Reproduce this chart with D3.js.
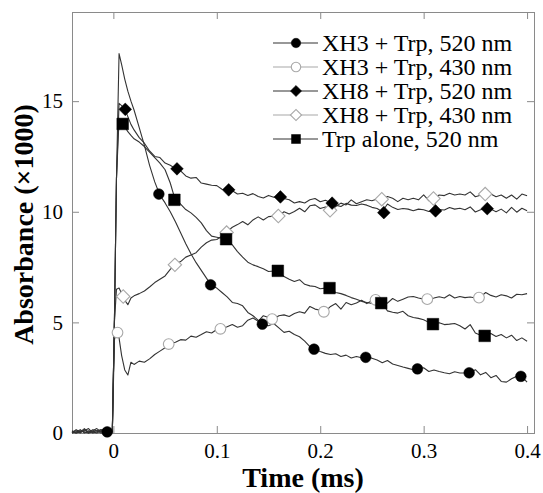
<!DOCTYPE html>
<html>
<head>
<meta charset="utf-8">
<script src="https://cdn.jsdelivr.net/npm/d3@7/dist/d3.min.js"></script>
<style>
  html, body { margin: 0; padding: 0; background: #fff; }
  svg { display: block; }
  text { font-family: "Liberation Serif", "Times New Roman", serif; }
</style>
</head>
<body>
<svg id="chart" width="543" height="493"></svg>
<script>
// Sampling times of the transient traces (ms)
const times = [
  -0.040, -0.036, -0.032, -0.028, -0.024, -0.020, -0.016, -0.012, -0.008, -0.004,
  -0.001, 0.001, 0.003, 0.0055, 0.008, 0.011, 0.014, 0.017,
  0.020, 0.025, 0.030, 0.035, 0.040, 0.045, 0.050, 0.055, 0.060, 0.065,
  0.070, 0.075, 0.080, 0.085, 0.090, 0.095, 0.100, 0.105, 0.110, 0.115,
  0.120, 0.125, 0.130, 0.135, 0.140, 0.145, 0.150, 0.155, 0.160, 0.165,
  0.170, 0.175, 0.180, 0.185, 0.190, 0.195, 0.200, 0.205, 0.210, 0.215,
  0.220, 0.225, 0.230, 0.235, 0.240, 0.245, 0.250, 0.255, 0.260, 0.265,
  0.270, 0.275, 0.280, 0.285, 0.290, 0.295, 0.300, 0.305, 0.310, 0.315,
  0.320, 0.325, 0.330, 0.335, 0.340, 0.345, 0.350, 0.355, 0.360, 0.365,
  0.370, 0.375, 0.380, 0.385, 0.390, 0.395, 0.400
];

// Absorbance (x1000) traces
const xh3Trp520 = [
  0.05, 0.1, 0.0, 0.15, 0.05, 0.1, 0.2, 0.05, 0.1, 0.05,
  0.1, 5.0, 11.5, 17.15, 16.65, 16.0, 15.45, 15.0,
  14.6, 13.8, 13.0, 12.1, 11.35, 10.75, 10.4, 10.0, 9.55, 9.05,
  8.55, 8.1, 7.7, 7.35, 7.0, 6.65, 6.55, 6.35, 6.15, 5.9,
  5.85, 5.75, 5.45, 5.3, 5.1, 4.9, 4.85, 4.95, 4.75, 4.55,
  4.6, 4.45, 4.35, 4.15, 3.9, 3.78, 3.68, 3.6, 3.55, 3.58,
  3.46, 3.52, 3.39, 3.46, 3.4, 3.44, 3.38, 3.3, 3.18, 3.28,
  3.12, 3.05, 2.98, 2.92, 2.86, 2.9, 2.95, 2.78, 2.85, 2.78,
  2.72, 2.68, 2.77, 2.71, 2.72, 2.75, 2.86, 2.63, 2.74, 2.5,
  2.6, 2.33, 2.3, 2.45, 2.56, 2.55, 2.3
];
const xh3Trp430 = [
  0.0, 0.15, 0.05, 0.2, 0.0, 0.05, 0.1, 0.15, 0.0, 0.05,
  0.05, 4.2, 4.6, 4.3, 3.5, 2.85, 2.62, 3.2,
  3.1, 3.25, 3.2, 3.35, 3.55, 3.7, 3.85, 4.05, 4.1, 4.22,
  4.2, 4.38, 4.33, 4.45, 4.58, 4.52, 4.68, 4.72, 4.8, 4.9,
  4.78, 4.85, 5.1, 5.2, 5.05, 5.3, 5.22, 5.15, 5.3, 5.34,
  5.27, 5.4, 5.48, 5.42, 5.72, 5.6, 5.55, 5.5, 5.72, 5.85,
  5.6, 5.9, 5.8, 5.88, 6.0, 5.85, 5.98, 6.02, 5.92, 5.87,
  6.08, 5.95, 6.05, 6.15, 6.17, 6.1, 6.05, 6.05, 6.1, 6.16,
  6.1, 6.25, 6.1, 6.17, 6.12, 6.15, 6.1, 6.15, 6.35, 6.22,
  6.15, 6.25, 6.2, 6.1, 6.27, 6.25, 6.3
];
const xh8Trp520 = [
  0.1, 0.0, 0.05, 0.1, 0.2, 0.0, 0.05, 0.15, 0.1, 0.0,
  0.1, 5.0, 11.5, 14.9, 14.8, 14.65, 14.3, 13.95,
  13.7, 13.35, 13.1, 12.75, 12.5, 12.45, 12.2, 12.1, 11.95, 11.85,
  11.62, 11.52, 11.55, 11.3, 11.25, 11.2, 11.18, 11.02, 10.99, 10.95,
  10.8, 10.84, 10.74, 10.82, 10.69, 10.62, 10.74, 10.66, 10.68, 10.6,
  10.54, 10.4, 10.46, 10.4, 10.54, 10.6, 10.45, 10.52, 10.42, 10.3,
  10.24, 10.38, 10.3, 10.28, 10.35, 10.3, 10.2, 10.15, 10.0, 10.35,
  10.2, 10.1, 10.15, 10.12, 10.05, 10.12, 10.09, 10.01, 10.04, 10.1,
  10.08, 10.19, 10.12, 10.16, 10.09, 10.22, 9.99, 10.09, 10.14, 10.12,
  10.0, 10.12, 9.95, 10.2, 9.98, 10.16, 10.05
];
const xh8Trp430 = [
  0.0, 0.05, 0.15, 0.0, 0.1, 0.05, 0.0, 0.1, 0.2, 0.05,
  0.05, 5.0, 6.5, 6.55, 6.3, 6.0, 5.8, 6.1,
  6.2, 6.3, 6.42, 6.6, 6.8, 6.95, 7.1, 7.4, 7.62, 7.75,
  7.95, 8.05, 8.15, 8.4, 8.6, 8.72, 8.75, 8.9, 9.1, 9.3,
  9.42, 9.56, 9.41, 9.63, 9.77, 9.63, 9.78, 9.8, 9.82, 10.0,
  9.9, 10.01, 10.16, 10.0, 10.27, 10.31, 10.15, 10.22, 10.07, 10.24,
  10.39, 10.31, 10.54, 10.36, 10.45, 10.54, 10.5, 10.58, 10.57, 10.69,
  10.61, 10.46, 10.61, 10.54, 10.61, 10.54, 10.76, 10.5, 10.6, 10.76,
  10.73, 10.84, 10.76, 10.8, 10.76, 10.9, 10.68, 10.75, 10.8, 10.8,
  10.68, 10.76, 10.61, 10.76, 10.57, 10.8, 10.72
];
const trpAlone520 = [
  0.05, 0.0, 0.1, 0.05, 0.0, 0.15, 0.1, 0.0, 0.05, 0.1,
  0.05, 5.0, 11.5, 14.2, 14.0, 13.85, 13.62, 13.45,
  13.3, 13.15, 12.95, 12.7, 12.45, 12.2, 11.9, 11.3, 10.5, 10.35,
  10.1, 9.95, 9.75, 9.5, 9.15, 8.9, 8.85, 8.8, 8.74, 8.5,
  8.2, 7.95, 7.72, 7.6, 7.52, 7.42, 7.3, 7.32, 7.3, 7.07,
  6.95, 6.85, 6.93, 6.72, 6.65, 6.62, 6.52, 6.55, 6.5, 6.35,
  6.3, 6.22, 6.12, 6.05, 5.95, 5.9, 5.85, 5.95, 5.87, 5.52,
  5.46, 5.42, 5.5, 5.3, 5.22, 5.18, 5.12, 5.0, 4.92, 4.98,
  4.9, 4.92, 4.95, 4.85, 4.7, 4.9, 4.52, 4.42, 4.4, 4.5,
  4.36, 4.45, 4.3, 4.42, 4.18, 4.3, 4.15
];

// Marker positions along each trace
const xh3Trp520MarkT = [-0.006, 0.044, 0.094, 0.144, 0.194, 0.244, 0.294, 0.344, 0.394];
const xh3Trp520MarkV = [0.05, 10.8, 6.7, 4.92, 3.79, 3.42, 2.9, 2.72, 2.56];
const xh3Trp430MarkT = [0.004, 0.0535, 0.1035, 0.1535, 0.2035, 0.2535, 0.3035, 0.3535];
const xh3Trp430MarkV = [4.54, 4.02, 4.71, 5.15, 5.48, 6.02, 6.05, 6.12];
const xh8Trp520MarkT = [0.0115, 0.0615, 0.1115, 0.1615, 0.2115, 0.2615, 0.3115, 0.3615];
const xh8Trp520MarkV = [14.63, 11.94, 10.99, 10.67, 10.39, 9.96, 10.04, 10.14];
const xh8Trp430MarkT = [0.0095, 0.0595, 0.1095, 0.1595, 0.2095, 0.2595, 0.3095, 0.3595];
const xh8Trp430MarkV = [6.17, 7.6, 9.06, 9.81, 10.07, 10.57, 10.6, 10.8];
const trpAlone520MarkT = [0.009, 0.059, 0.109, 0.159, 0.209, 0.259, 0.309, 0.359];
const trpAlone520MarkV = [13.97, 10.54, 8.76, 7.33, 6.55, 5.87, 4.92, 4.39];

const seriesNames = ["XH3 + Trp, 520 nm", "XH3 + Trp, 430 nm", "XH8 + Trp, 520 nm", "XH8 + Trp, 430 nm", "Trp alone, 520 nm"];
const xTicks = [0, 0.1, 0.2, 0.3, 0.4];
const yTicks = [0, 5, 10, 15];

const series = [
  { name: seriesNames[0], values: xh3Trp520, markT: xh3Trp520MarkT, markV: xh3Trp520MarkV, shape: "circle", filled: true },
  { name: seriesNames[1], values: xh3Trp430, markT: xh3Trp430MarkT, markV: xh3Trp430MarkV, shape: "circle", filled: false },
  { name: seriesNames[2], values: xh8Trp520, markT: xh8Trp520MarkT, markV: xh8Trp520MarkV, shape: "diamond", filled: true },
  { name: seriesNames[3], values: xh8Trp430, markT: xh8Trp430MarkT, markV: xh8Trp430MarkV, shape: "diamond", filled: false },
  { name: seriesNames[4], values: trpAlone520, markT: trpAlone520MarkT, markV: trpAlone520MarkV, shape: "square", filled: true }
];

const plot = { left: 72, top: 12, right: 534, bottom: 433 };
const x = d3.scaleLinear().domain([-0.04, 0.4067]).range([plot.left, plot.right]);
const y = d3.scaleLinear().domain([0, 19.03]).range([plot.bottom, plot.top]);

const svg = d3.select("#chart");
const frameColor = "#8a8a8a";
const lineColor = "#333";
const openStroke = "#a8a8a8";

// Axes: ticks pointing inward on all four sides
const tickLen = 7;
const axB = d3.axisBottom(x).tickValues(xTicks).tickSize(-tickLen).tickPadding(10).tickFormat(d3.format("~g"));
const axT = d3.axisTop(x).tickValues(xTicks).tickSize(-tickLen).tickFormat("");
const axL = d3.axisLeft(y).tickValues(yTicks).tickSize(-tickLen).tickPadding(9).tickFormat(d3.format("d"));
const axR = d3.axisRight(y).tickValues(yTicks).tickSize(-tickLen).tickFormat("");

function styleAxis(g) {
  g.select(".domain").remove();
  g.selectAll(".tick line").attr("stroke", frameColor).attr("stroke-width", 1);
  g.selectAll(".tick text").attr("fill", "#000").style("font-size", "21px")
    .style("font-family", '"Liberation Serif", serif');
}
svg.append("g").attr("transform", `translate(0,${plot.bottom})`).call(axB).call(styleAxis);
svg.append("g").attr("transform", `translate(0,${plot.top})`).call(axT).call(styleAxis);
svg.append("g").attr("transform", `translate(${plot.left},0)`).call(axL).call(styleAxis);
svg.append("g").attr("transform", `translate(${plot.right},0)`).call(axR).call(styleAxis);

svg.append("rect")
  .attr("x", plot.left + 0.5).attr("y", plot.top + 0.5)
  .attr("width", plot.right - plot.left).attr("height", plot.bottom - plot.top)
  .attr("fill", "none").attr("stroke", frameColor).attr("stroke-width", 1);

// Traces
const line = d3.line().x((d, i) => x(times[i])).y(d => y(d));
svg.append("g").selectAll("path").data(series).join("path")
  .attr("d", s => line(s.values))
  .attr("fill", "none").attr("stroke", lineColor).attr("stroke-width", 1.1)
  .attr("stroke-linejoin", "round");

// Marker shapes
function symbolPath(shape, scale) {
  if (shape === "circle") return d3.symbol(d3.symbolCircle, 90 * scale)();
  if (shape === "square") return d3.symbol(d3.symbolSquare, 135 * scale)();
  return d3.symbol(d3.symbolSquare, 80 * scale)();
}
function drawMarker(g, shape, filled, cx, cy, scale) {
  g.append("path")
    .attr("d", symbolPath(shape, scale))
    .attr("transform", `translate(${cx},${cy})` + (shape === "diamond" ? " rotate(45)" : ""))
    .attr("fill", filled ? "#000" : "#fff")
    .attr("stroke", filled ? "#000" : openStroke)
    .attr("stroke-width", filled ? 0.5 : 1.1);
}

const markG = svg.append("g");
// open markers first, filled ones on top
[1, 3, 0, 2, 4].forEach(k => {
  const s = series[k];
  s.markT.forEach((t, i) => drawMarker(markG, s.shape, s.filled, x(t), y(s.markV[i]), s.shape === "diamond" && !s.filled ? 1.12 : 1));
});

// Legend
const legend = svg.append("g");
const legY0 = 43, legStep = 24;
series.forEach((s, i) => {
  const cy = legY0 + i * legStep;
  legend.append("line")
    .attr("x1", 273).attr("x2", 318).attr("y1", cy).attr("y2", cy)
    .attr("stroke", s.filled ? lineColor : openStroke).attr("stroke-width", 1.1);
  drawMarker(legend, s.shape, s.filled, 296, cy, s.shape === "square" ? 0.6 : 0.78);
  legend.append("text")
    .attr("x", 322).attr("y", cy).attr("dy", "0.35em")
    .style("font-size", "24px").attr("fill", "#000")
    .text(s.name);
});

// Axis titles
svg.append("text")
  .attr("x", (plot.left + plot.right) / 2).attr("y", 487)
  .attr("text-anchor", "middle")
  .style("font-size", "28px").style("font-weight", "bold")
  .text("Time (ms)");

svg.append("text")
  .attr("transform", `translate(33,${(plot.top + plot.bottom) / 2 + 2}) rotate(-90)`)
  .attr("text-anchor", "middle")
  .style("font-size", "28px").style("font-weight", "bold")
  .text("Absorbance (×1000)");
</script>
</body>
</html>
